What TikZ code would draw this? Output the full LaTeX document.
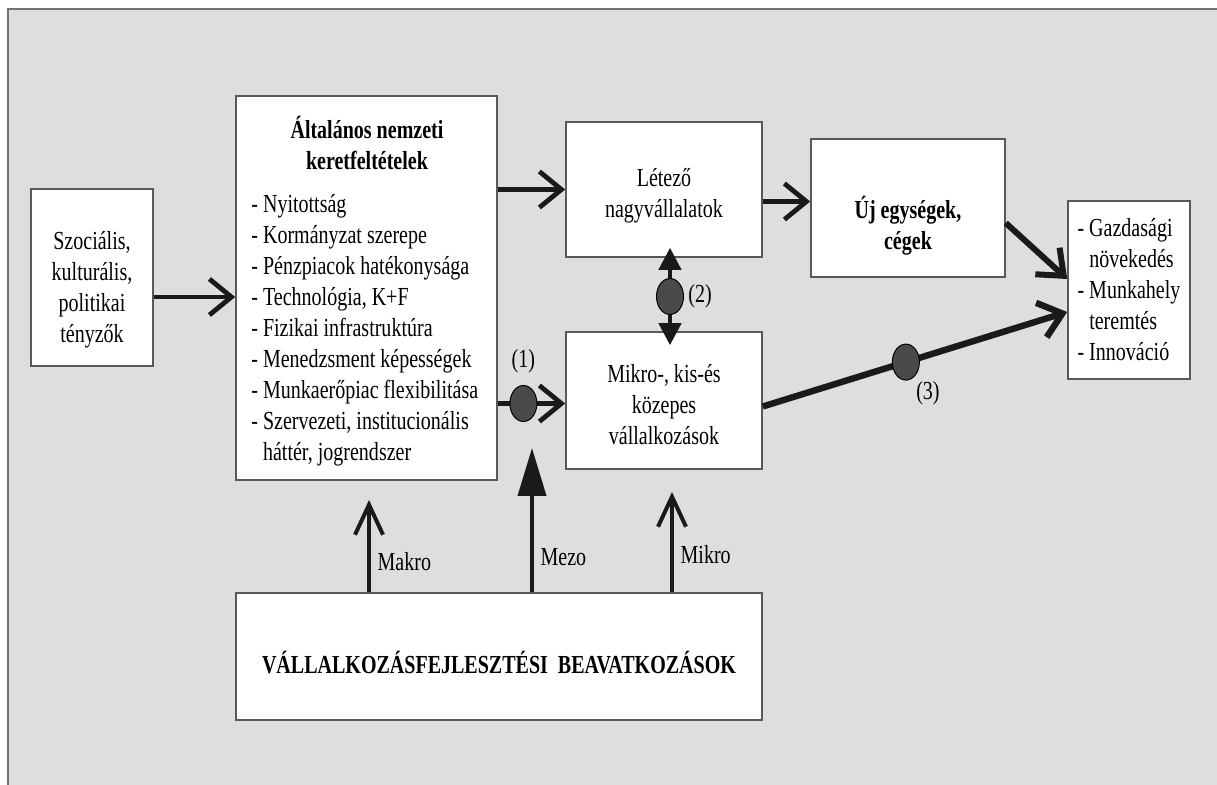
\documentclass[tikz,border=0pt]{standalone}
\usepackage{fontspec}
\setmainfont{Liberation Serif}[FakeStretch=0.77]
\usetikzlibrary{arrows.meta,positioning,shapes.geometric}

\definecolor{bggray}{HTML}{DEDEDE}
\definecolor{dotgray}{HTML}{4A4A4A}
\definecolor{ink}{HTML}{1A1A1A}
\newcommand{\dgsize}{\fontsize{13}{15.5}\selectfont}

\tikzset{
  box/.style={draw=black!65, line width=0.8pt, fill=white, inner sep=0pt, align=center},
  txt/.style={inner sep=0pt, align=center},
  bold/.style={font=\dgsize\bfseries},
  dot/.style={ellipse, draw=black, line width=0.5pt, fill=dotgray, minimum width=13.5pt, minimum height=18pt, inner sep=0pt},
  arr/.style={draw=ink, line width=2.4pt, -{Straight Barb[length=11pt,width=18pt]}},
  up/.style={draw=ink, line width=2pt, -{Straight Barb[length=15pt,width=14pt]}},
  upfill/.style={draw=ink, line width=2pt, -{Triangle[length=24pt,width=14pt]}},
  both/.style={draw=ink, line width=2.2pt, {Triangle[length=11pt,width=11pt]}-{Triangle[length=11pt,width=11pt]}}
}

\begin{document}
\begin{tikzpicture}[x=0.5pt, y=-0.5pt, font=\dgsize]
\useasboundingbox (0,0) rectangle (1217,785);
\fill[bggray] (8,9) rectangle (1217,785);
\draw[black!55, line width=1pt] (8,785) |- (1217,9);

\node[box, minimum width=61pt, minimum height=88.5pt] (soc) at (92,277.5) {};
\node[txt] (socT) at (92,290) {Szociális,\\kulturális,\\politikai\\tényzők};

\node[box, minimum width=130.5pt, minimum height=192pt] (alt) at (366.5,288) {};
\node[txt, bold] (altT) at (367,143) {Általános nemzeti\\keretfeltételek};
\node[txt, align=left, anchor=west] (altL) at (251,330) {- Nyitottság\\- Kormányzat szerepe\\- Pénzpiacok hatékonysága\\- Technológia, K+F\\- Fizikai infrastruktúra\\- Menedzsment képességek\\- Munkaerőpiac flexibilitása\\- Szervezeti, institucionális\\\phantom{-}~háttér, jogrendszer};

\node[box, minimum width=98pt, minimum height=67.5pt] (let) at (664,189.5) {};
\node[txt] (letT) at (664,196) {Létező\\nagyvállalatok};
\node[box, minimum width=98pt, minimum height=68.5pt] (mik) at (664,400.5) {};
\node[txt] (mikT) at (664,405) {Mikro-, kis-és\\közepes\\vállalkozások};

\node[box, minimum width=97pt, minimum height=69pt] (uj) at (908,208) {};
\node[txt, bold] (ujT) at (908,226) {Új egységek,\\cégek};

\node[box, minimum width=61pt, minimum height=89pt, align=left] (res) at (1129,290) {- Gazdasági\\\phantom{-}~növekedés\\- Munkahely\\\phantom{-}~teremtés\\- Innováció};

\node[box, minimum width=263pt, minimum height=63.5pt] (bev) at (499,656.5) {};
\node[txt, bold] (bevT) at (499,663) {VÁLLALKOZÁSFEJLESZTÉSI\ \ BEAVATKOZÁSOK};

\draw[arr] ([yshift=-9.75pt]soc.east) -- ([yshift=-9.75pt]soc.east -| alt.west);
\draw[arr] (alt.east |- let.west) -- (let.west);
\draw[arr] ([yshift=-6pt]let.east) -- ([yshift=-6pt]let.east -| uj.west);
\draw[arr, line width=3pt] ([yshift=-7.5pt]uj.east) -- ([yshift=5.5pt]res.west);
\draw[arr] ([yshift=-1.5pt]alt.east |- mik.west) -- node[dot, pos=0.38] (d1) {} ([yshift=-1.5pt]mik.west);
\draw[both] ([xshift=3pt,yshift=5pt]let.south) -- node[dot] (d2) {} ([xshift=3pt,yshift=-7pt]mik.north);
\draw[arr, line width=3.2pt] ([yshift=-3pt]mik.east) -- node[dot, pos=0.47] (d3) {} ([yshift=-11pt]res.west);

\node[above=6pt of d1, inner sep=0pt] (l1) {(1)};
\node[right=2pt of d2, inner sep=0pt] (l2) {(2)};
\node[anchor=north west, inner sep=0pt] (l3) at ([xshift=5pt]d3.south) {(3)};

\coordinate (mkTip) at (369,500);
\coordinate (mzTip) at (532,448);
\coordinate (miTip) at (672,492);
\draw[up] (bev.north -| mkTip) -- node[right, pos=0.33] (mkL) {Makro} (mkTip);
\draw[upfill] (bev.north -| mzTip) -- node[right, pos=0.24] (mzL) {Mezo} (mzTip);
\draw[up] (bev.north -| miTip) -- node[right, pos=0.38] (miL) {Mikro} (miTip);
\end{tikzpicture}
\end{document}
